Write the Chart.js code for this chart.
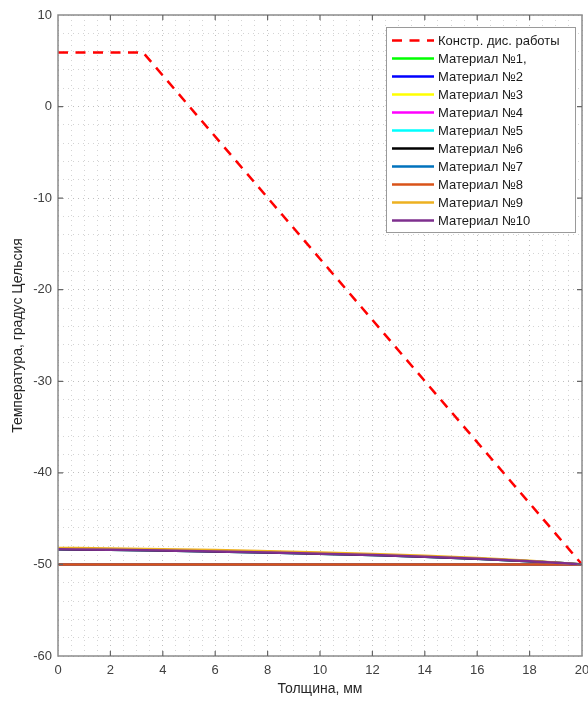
<!DOCTYPE html>
<html>
<head>
<meta charset="utf-8">
<script src="https://cdn.jsdelivr.net/npm/chart.js@4/dist/chart.umd.min.js"></script>
<style>
  body { margin: 0; background: #fff; }
  canvas { display: block; }
</style>
</head>
<body>
<canvas id="tempChart" width="588" height="704"></canvas>
<script>
// Толщина, мм
const thickness = [0, 2, 4, 6, 8, 10, 12, 14, 16, 18, 20];

// Конструкционная кривая (красный пунктир)
const constrX = [0, 3.25, 20];
const constrY = [5.9, 5.9, -50];

// Материалы
const mat1 = [-50, -50, -50, -50, -50, -50, -50, -50, -50, -50, -50];
const mat2 = [-50, -50, -50, -50, -50, -50, -50, -50, -50, -50, -50];
const mat3 = [-50, -50, -50, -50, -50, -50, -50, -50, -50, -50, -50];
const mat4 = [-50, -50, -50, -50, -50, -50, -50, -50, -50, -50, -50];
const mat5 = [-48.35, -48.4, -48.48, -48.58, -48.7, -48.83, -48.98, -49.15, -49.38, -49.65, -50];
const mat6 = [-48.35, -48.4, -48.48, -48.58, -48.7, -48.83, -48.98, -49.15, -49.38, -49.65, -50];
const mat7 = [-50, -50, -50, -50, -50, -50, -50, -50, -50, -50, -50];
const mat8 = [-50, -50, -50, -50, -50, -50, -50, -50, -50, -50, -50];
const mat9 = [-48.2, -48.25, -48.33, -48.43, -48.56, -48.7, -48.86, -49.05, -49.3, -49.6, -50];
const mat10 = [-48.35, -48.4, -48.48, -48.58, -48.7, -48.83, -48.98, -49.15, -49.38, -49.65, -50];

const matNames = ['Материал №1,', 'Материал №2', 'Материал №3', 'Материал №4', 'Материал №5',
                  'Материал №6', 'Материал №7', 'Материал №8', 'Материал №9', 'Материал №10'];
const matColors = ['#00ff00', '#0000ff', '#ffff00', '#ff00ff', '#00ffff',
                   '#000000', '#0072bd', '#d95319', '#edb120', '#7e2f8e'];
const matValues = [mat1, mat2, mat3, mat4, mat5, mat6, mat7, mat8, mat9, mat10];

const toPoints = (xs, ys) => xs.map((x, i) => ({ x: x, y: ys[i] }));

// order: больший номер рисуется раньше, поэтому последние материалы оказываются сверху
const datasets = [{
  label: 'Констр. дис. работы',
  data: toPoints(constrX, constrY),
  borderColor: '#ff0000',
  borderWidth: 2.5,
  borderDash: [10, 7.5],
  tension: 0,
  order: 11
}];
matValues.forEach((vals, i) => {
  datasets.push({
    label: matNames[i],
    data: toPoints(thickness, vals),
    borderColor: matColors[i],
    borderWidth: 2.5,
    cubicInterpolationMode: 'monotone',
    order: 10 - i
  });
});

// Рамка осей и засечки внутрь (как в MATLAB)
const boxPlugin = {
  id: 'box',
  afterDatasetsDraw(chart) {
    const { ctx, chartArea: a, scales } = chart;
    ctx.save();
    ctx.strokeStyle = '#8c8c8c';
    ctx.lineWidth = 1.5;
    ctx.strokeRect(a.left, a.top, a.right - a.left, a.bottom - a.top);
    ctx.lineWidth = 1.2;
    ctx.strokeStyle = '#666';
    ctx.beginPath();
    for (let v = 2; v < 20; v += 2) {
      const px = scales.x.getPixelForValue(v);
      ctx.moveTo(px, a.bottom); ctx.lineTo(px, a.bottom - 5);
      ctx.moveTo(px, a.top); ctx.lineTo(px, a.top + 5);
    }
    for (let v = -50; v < 10; v += 10) {
      const py = scales.y.getPixelForValue(v);
      ctx.moveTo(a.left, py); ctx.lineTo(a.left + 5, py);
      ctx.moveTo(a.right, py); ctx.lineTo(a.right - 5, py);
    }
    ctx.stroke();
    ctx.restore();
  }
};

// Легенда в правом верхнем углу области графика
const legendPlugin = {
  id: 'boxLegend',
  afterDraw(chart) {
    const { ctx, chartArea: a } = chart;
    const w = 189, rowH = 18, h = 205;
    const x0 = a.right - 7 - w, y0 = a.top + 12;
    ctx.save();
    ctx.fillStyle = '#fff';
    ctx.fillRect(x0, y0, w, h);
    ctx.strokeStyle = '#9a9a9a';
    ctx.lineWidth = 1;
    ctx.strokeRect(x0 + 0.5, y0 + 0.5, w, h);
    ctx.font = '13px "Liberation Sans", Arial, sans-serif';
    ctx.textBaseline = 'middle';
    chart.data.datasets.forEach((ds, i) => {
      const y = y0 + 13.5 + i * rowH;
      ctx.strokeStyle = ds.borderColor;
      ctx.lineWidth = 2.5;
      ctx.setLineDash(ds.borderDash || []);
      ctx.beginPath();
      ctx.moveTo(x0 + 6, y);
      ctx.lineTo(x0 + 48, y);
      ctx.stroke();
      ctx.setLineDash([]);
      ctx.fillStyle = '#1a1a1a';
      ctx.fillText(ds.label, x0 + 52, y + 0.5);
    });
    ctx.restore();
  }
};

const tickFont = { family: '"Liberation Sans", Arial, sans-serif', size: 13 };
const titleFont = { family: '"Liberation Sans", Arial, sans-serif', size: 14 };

new Chart(document.getElementById('tempChart'), {
  type: 'line',
  data: { datasets: datasets },
  options: {
    responsive: false,
    animation: false,
    layout: { padding: { top: 15, right: 6, left: 0, bottom: 0 } },
    elements: { point: { radius: 0 } },
    plugins: { legend: { display: false }, tooltip: { enabled: false } },
    scales: {
      x: {
        type: 'linear',
        min: 0, max: 20,
        border: { display: false, dash: [1, 4] },
        grid: {
          drawTicks: false,
          color: c => (c.tick && c.tick.value % 2 === 0) ? 'rgba(0,0,0,0.25)' : 'rgba(0,0,0,0.17)'
        },
        ticks: {
          stepSize: 0.5, autoSkip: false, maxRotation: 0, padding: 7,
          color: '#404040', font: tickFont,
          callback: v => (v % 2 === 0 ? v : '')
        },
        title: { display: true, text: 'Толщина, мм', color: '#262626', font: titleFont, padding: { bottom: 6 } },
        afterFit(s) { s.height = 48; s.paddingLeft = 0; s.paddingRight = 0; }
      },
      y: {
        min: -60, max: 10,
        border: { display: false, dash: [1, 4] },
        grid: {
          drawTicks: false,
          color: c => (c.tick && c.tick.value % 10 === 0) ? 'rgba(0,0,0,0.25)' : 'rgba(0,0,0,0.17)'
        },
        ticks: {
          stepSize: 2, autoSkip: false, padding: 6,
          color: '#404040', font: tickFont,
          callback: v => (v % 10 === 0 ? v : '')
        },
        title: { display: true, text: 'Температура, градус Цельсия', color: '#262626', font: titleFont, padding: { top: 10 } },
        afterFit(s) { s.width = 58; s.paddingTop = 0; s.paddingBottom = 0; }
      }
    }
  },
  plugins: [boxPlugin, legendPlugin]
});
</script>
</body>
</html>
